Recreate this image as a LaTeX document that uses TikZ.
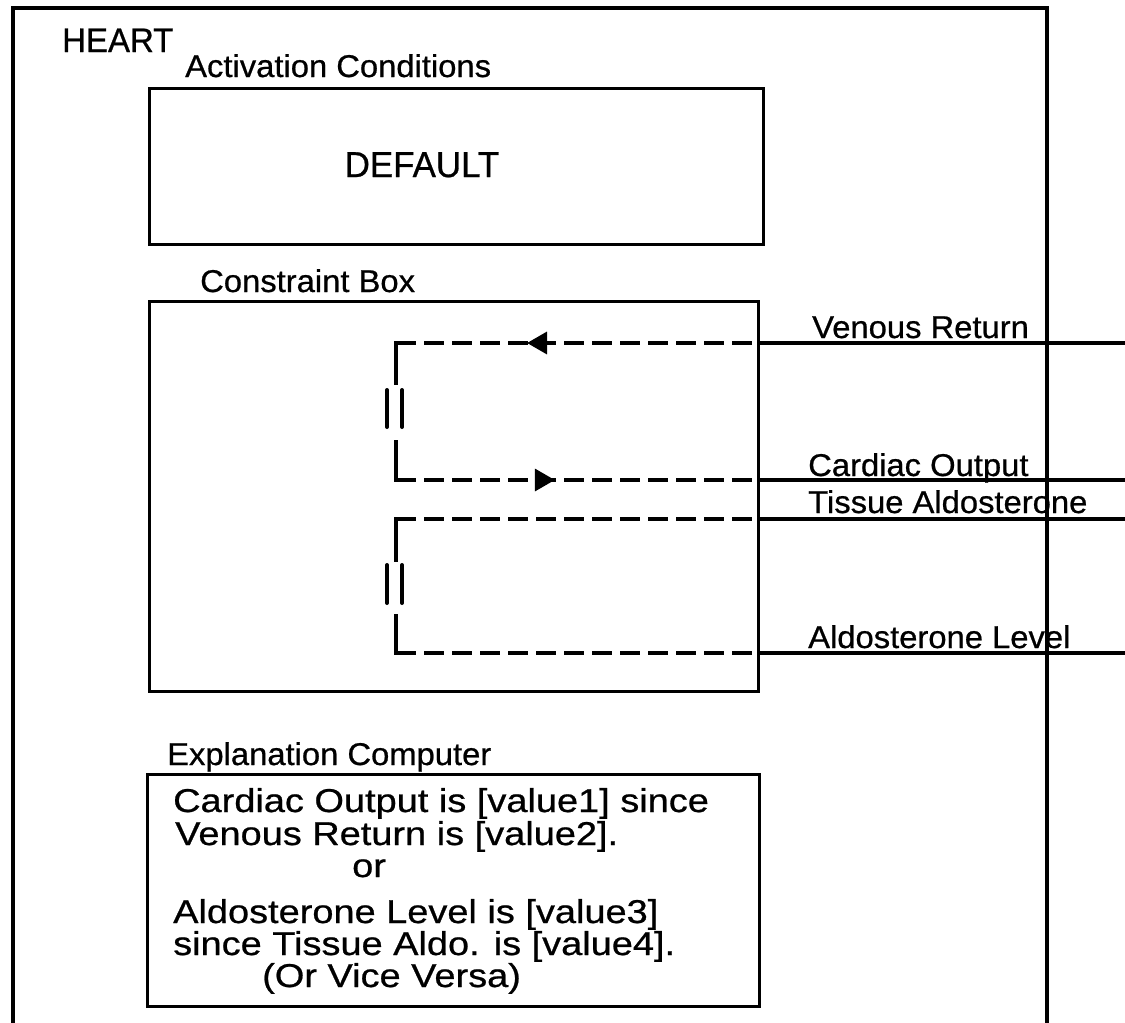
\documentclass[tikz,border=0pt]{standalone}
\usepackage{fontspec}
\setmainfont{Liberation Sans}
\newfontfamily\labfont[FakeStretch=1.04,FakeBold=0.7]{Liberation Sans}
\newfontfamily\bigfont[FakeStretch=0.97,FakeBold=0.7]{Liberation Sans}
\newfontfamily\expfont[FakeStretch=1.15,FakeBold=0.7]{Liberation Sans}
\usetikzlibrary{arrows.meta,decorations.markings}
\begin{document}
\begin{tikzpicture}[x=1pt,y=-1pt,
  frame/.style={draw, line width=3.2pt, inner sep=0pt, anchor=north west},
  lab/.style={font=\labfont\fontsize{31.5}{36}\selectfont, inner sep=0pt, anchor=base west},
  exptext/.style={font=\expfont\fontsize{33}{36}\selectfont, inner sep=0pt, anchor=base west},
  sig/.style={line width=3.2pt},
  dsig/.style={line width=3.5pt, dash pattern=on 20pt off 8pt},
  vseg/.style={line width=3.5pt, line cap=rect},
  eqbar/.style={line width=4pt, line cap=round},
  tipleft/.style={postaction={decorate, decoration={markings,
      mark=at position #1 with {\arrowreversed{Triangle[length=20pt,width=22pt]}}}}},
  tipright/.style={postaction={decorate, decoration={markings,
      mark=at position #1 with {\arrow{Triangle[length=20pt,width=22pt]}}}}},
]
\useasboundingbox (0,0) rectangle (1125,1023);

% outer HEART frame (open at the bottom)
\draw[line width=3.5pt] (13,1023) -- (13,8) -- (1047,8) -- (1047,1023);
\node[inner sep=0pt, anchor=base west, font=\bigfont\fontsize{34}{38}\selectfont] (heart) at (62,52) {HEART};

% activation conditions
\node[lab] (actlab) at (185,77) {Activation Conditions};
\node[frame, minimum width=614pt, minimum height=156pt] (act) at (148,87) {};
\node[font=\bigfont\fontsize{36}{40}\selectfont, inner sep=0pt, anchor=base] (default) at (422,177) {DEFAULT};

% constraint box
\node[lab] (conlab) at (200,292) {Constraint Box};
\node[frame, minimum width=609pt, minimum height=390pt] (con) at (148,300) {};

% signal coordinates
\coordinate (vrL) at (396,343);  \coordinate (vrE) at (757,343);  \coordinate (vrO) at (1125,343);
\coordinate (coL) at (396,480);  \coordinate (coE) at (757,480);  \coordinate (coO) at (1125,480);
\coordinate (taL) at (396,519);  \coordinate (taE) at (757,519);  \coordinate (taO) at (1125,519);
\coordinate (alL) at (396,653);  \coordinate (alE) at (757,653);  \coordinate (alO) at (1125,653);
\coordinate (v1a) at (396,383);  \coordinate (v1b) at (396,442);
\coordinate (v2a) at (396,560);  \coordinate (v2b) at (396,616);

% external solid lines
\draw[sig] (vrE) -- (vrO);
\draw[sig] (coE) -- (coO);
\draw[sig] (taE) -- (taO);
\draw[sig] (alE) -- (alO);

% loop 1 : venous return = cardiac output
\draw[dsig, tipleft=0.363] (vrL) -- (vrE);
\draw[dsig, tipright=0.44] (coL) -- (coE);
\draw[vseg] (v1a) -- (vrL);
\draw[vseg] (v1b) -- (coL);
\draw[eqbar] (387,390) -- (387,427);
\draw[eqbar] (402,390) -- (402,427);

% loop 2 : tissue aldosterone = aldosterone level
\draw[dsig] (taL) -- (taE);
\draw[dsig] (alL) -- (alE);
\draw[vseg] (v2a) -- (taL);
\draw[vseg] (v2b) -- (alL);
\draw[eqbar] (387,565) -- (387,603);
\draw[eqbar] (402,565) -- (402,603);

% signal labels
\node[lab] (vrlab) at (812,338) {Venous Return};
\node[lab] (colab) at (808,476) {Cardiac Output};
\node[lab] (talab) at (808,513) {Tissue Aldosterone};
\node[lab] (allab) at (808,648) {Aldosterone Level};

% explanation computer
\node[lab] (explab) at (167,765) {Explanation Computer};
\node[frame, minimum width=612pt, minimum height=232pt] (exp) at (146,773) {};
\node[exptext] (e1) at (173,812) {Cardiac Output is [value1] since};
\node[exptext] (e2) at (175,845) {Venous Return is [value2].};
\node[exptext] (e3) at (352,877) {or};
\node[exptext] (e4) at (173,923) {Aldosterone Level is [value3]};
\node[exptext] (e5) at (173,955) {since Tissue Aldo. is [value4].};
\node[exptext] (e6) at (262,987) {(Or Vice Versa)};
\end{tikzpicture}
\end{document}
